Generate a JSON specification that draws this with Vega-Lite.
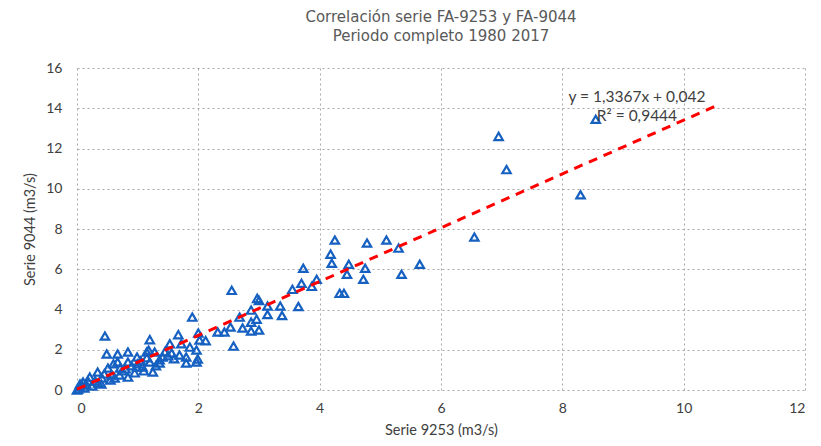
{
  "$schema": "https://vega.github.io/schema/vega-lite/v6.json",
  "width": 728,
  "height": 322,
  "autosize": {"type": "none"},
  "padding": {"left": 77, "top": 68, "right": 16, "bottom": 56},
  "background": "white",
  "config": {"view": {"stroke": null}, "font": "Lato"},
  "title": {
    "text": ["Correlación serie FA-9253 y FA-9044", "Periodo completo 1980 2017"],
    "font": "DejaVu Sans",
    "fontSize": 15,
    "fontWeight": "normal",
    "color": "#595959",
    "anchor": "middle",
    "lineHeight": 19,
    "offset": 17
  },
  "encoding": {
    "x": {"field": "x", "type": "quantitative", "scale": {"domain": [0, 12], "nice": false, "zero": false},
      "axis": {"values": [0, 2, 4, 6, 8, 10, 12], "format": "d", "grid": true, "gridDash": [2, 3], "gridColor": "#a8a8a8", "gridWidth": 1,
        "domain": false, "ticks": false, "labelFontSize": 14, "labelColor": "#404040", "labelPadding": 11,
        "title": "Serie 9253 (m3/s)", "titleFontSize": 14.5, "titleFontWeight": "normal", "titleColor": "#404040", "titlePadding": 8}},
    "y": {"field": "y", "type": "quantitative", "scale": {"domain": [0, 16], "nice": false, "zero": false},
      "axis": {"values": [0, 2, 4, 6, 8, 10, 12, 14, 16], "format": "d", "grid": true, "gridDash": [2, 3], "gridColor": "#a8a8a8", "gridWidth": 1,
        "domain": false, "ticks": false, "labelFontSize": 14, "labelColor": "#404040", "labelPadding": 15,
        "title": "Serie 9044 (m3/s)", "titleFontSize": 14.5, "titleFontWeight": "normal", "titleColor": "#404040", "titlePadding": 8}}
  },
  "layer": [
    {
      "data": {"values": [
        {"x": 6.95, "y": 12.6}, {"x": 7.08, "y": 10.95}, {"x": 8.3, "y": 9.7}, {"x": 6.55, "y": 7.6}, {"x": 8.55, "y": 13.45},
        {"x": 5.1, "y": 7.45}, {"x": 5.3, "y": 7.05}, {"x": 4.78, "y": 7.3}, {"x": 5.65, "y": 6.25}, {"x": 5.35, "y": 5.75},
        {"x": 4.25, "y": 7.45}, {"x": 4.18, "y": 6.75}, {"x": 4.2, "y": 6.3}, {"x": 4.48, "y": 6.25}, {"x": 4.75, "y": 6.05},
        {"x": 3.73, "y": 6.05}, {"x": 4.45, "y": 5.75}, {"x": 4.72, "y": 5.5}, {"x": 3.7, "y": 5.3}, {"x": 3.95, "y": 5.5},
        {"x": 3.87, "y": 5.15}, {"x": 3.55, "y": 5.0}, {"x": 4.33, "y": 4.8}, {"x": 4.4, "y": 4.8}, {"x": 3.65, "y": 4.15},
        {"x": 2.55, "y": 4.95}, {"x": 2.97, "y": 4.55}, {"x": 3.0, "y": 4.45}, {"x": 3.14, "y": 4.17}, {"x": 3.35, "y": 4.17},
        {"x": 2.87, "y": 3.97}, {"x": 3.14, "y": 3.75}, {"x": 3.38, "y": 3.7}, {"x": 2.68, "y": 3.62}, {"x": 2.96, "y": 3.52},
        {"x": 2.87, "y": 3.37}, {"x": 2.73, "y": 3.08}, {"x": 3.0, "y": 2.98}, {"x": 2.87, "y": 2.93}, {"x": 2.53, "y": 3.13},
        {"x": 2.43, "y": 2.88}, {"x": 2.32, "y": 2.88}, {"x": 2.58, "y": 2.18},
        {"x": 1.9, "y": 3.62}, {"x": 1.67, "y": 2.75}, {"x": 2.0, "y": 2.83}, {"x": 1.2, "y": 2.5}, {"x": 2.02, "y": 2.48},
        {"x": 2.12, "y": 2.45}, {"x": 1.72, "y": 2.3}, {"x": 1.53, "y": 2.3}, {"x": 1.86, "y": 2.13}, {"x": 1.97, "y": 1.99},
        {"x": 1.28, "y": 1.89}, {"x": 1.15, "y": 1.89}, {"x": 1.56, "y": 1.84}, {"x": 1.69, "y": 1.74}, {"x": 1.41, "y": 1.64},
        {"x": 1.8, "y": 1.64}, {"x": 1.99, "y": 1.54}, {"x": 1.2, "y": 1.39}, {"x": 1.36, "y": 1.34}, {"x": 1.8, "y": 1.34},
        {"x": 1.08, "y": 1.14}, {"x": 1.25, "y": 0.89}, {"x": 1.18, "y": 1.98}, {"x": 1.36, "y": 1.5}, {"x": 1.97, "y": 1.39},
        {"x": 0.46, "y": 2.68}, {"x": 0.49, "y": 1.79}, {"x": 0.67, "y": 1.79}, {"x": 0.84, "y": 1.89}, {"x": 0.99, "y": 1.64},
        {"x": 0.67, "y": 1.39}, {"x": 0.84, "y": 1.39}, {"x": 0.51, "y": 1.09}, {"x": 0.71, "y": 1.09}, {"x": 0.99, "y": 1.14},
        {"x": 0.34, "y": 0.89}, {"x": 0.57, "y": 0.74}, {"x": 0.21, "y": 0.64}, {"x": 0.41, "y": 0.6}, {"x": 0.62, "y": 0.6},
        {"x": 0.84, "y": 0.64}, {"x": 0.1, "y": 0.4}, {"x": 0.05, "y": 0.15}, {"x": 0.0, "y": 0.0}, {"x": 0.02, "y": 0.05},
        {"x": 0.08, "y": 0.25}, {"x": 0.15, "y": 0.3}, {"x": 0.3, "y": 0.45}, {"x": 0.45, "y": 0.8}, {"x": 0.75, "y": 0.95},
        {"x": 0.9, "y": 1.2}, {"x": 1.05, "y": 1.45}, {"x": 1.1, "y": 0.95}, {"x": 0.95, "y": 0.85}, {"x": 0.55, "y": 0.5},
        {"x": 0.25, "y": 0.2}, {"x": 0.12, "y": 0.1}, {"x": 0.35, "y": 0.35}, {"x": 0.7, "y": 0.75}, {"x": 1.3, "y": 1.2},
        {"x": 1.5, "y": 1.7}, {"x": 1.6, "y": 1.55}, {"x": 0.6, "y": 1.3}, {"x": 0.8, "y": 1.05}, {"x": 0.4, "y": 0.3},
        {"x": 0.18, "y": 0.45}, {"x": 0.05, "y": 0.3}, {"x": 1.0, "y": 1.3}, {"x": 1.45, "y": 1.9}, {"x": 1.15, "y": 1.6}
      ]},
      "mark": {"type": "point", "shape": "triangle-up", "filled": false, "stroke": "#1560c0", "strokeWidth": 2.2, "size": 70, "opacity": 1}
    },
    {
      "data": {"values": [{"x": 0, "y": 0.042}, {"x": 10.52, "y": 14.104}]},
      "mark": {"type": "line", "color": "#ff0000", "strokeWidth": 3, "strokeDash": [9, 7]}
    },
    {
      "data": {"values": [
        {"x": 9.23, "y": 14.56, "label": "y = 1,3367x + 0,042"},
        {"x": 9.23, "y": 13.6, "label": "R² = 0,9444"}
      ]},
      "mark": {"type": "text", "fontSize": 15.5, "color": "#404040", "align": "center", "baseline": "middle"},
      "encoding": {
        "text": {"field": "label"}
      }
    }
  ]
}
